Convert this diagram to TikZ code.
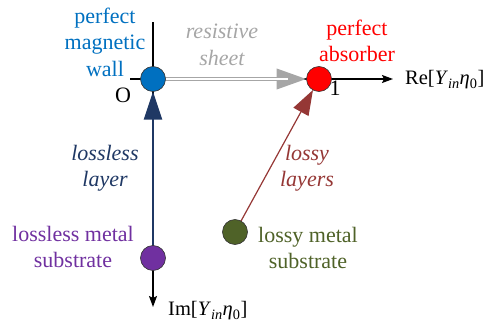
\documentclass[tikz,border=0pt]{standalone}
\usepackage{fontspec}
\setmainfont{Liberation Serif}
\usetikzlibrary{arrows.meta}
\definecolor{cblue}{RGB}{0,112,192}
\definecolor{cnavy}{RGB}{31,56,100}
\definecolor{cpurple}{RGB}{112,48,160}
\definecolor{colive}{RGB}{79,98,40}
\definecolor{cbrown}{RGB}{149,55,53}
\definecolor{cgray}{RGB}{166,166,166}
\tikzset{
  every node/.style={font=\fontsize{22}{26.5}\selectfont},
  dot/.style={circle, draw=black!80, line width=0.6pt, minimum size=25pt, inner sep=0pt},
  axis/.style={black, line width=1.6pt, -{Stealth[length=11pt,width=8pt,inset=2pt]}},
  lbl/.style={align=center, inner sep=0pt},
  itl/.style={font=\fontsize{22}{26.5}\selectfont\itshape},
  axlbl/.style={font=\fontsize{20.5}{24}\selectfont, anchor=west, inner sep=0pt},
}
\begin{document}
\begin{tikzpicture}[x=1pt,y=-1pt]
\useasboundingbox (0,0) rectangle (488,324);
% axis ends
\coordinate (vtop) at (153,22);
\coordinate (vbot) at (153,307);
\coordinate (hleft) at (130,79);
\coordinate (hright) at (393,79);
\coordinate (O) at (153,79);
\coordinate (R) at (319,79);
\coordinate (P) at (153,258);
\coordinate (G) at (235,232);
% axes
\draw[axis] (vtop) -- (vbot);
\draw[axis] (hleft) -- (hright);
% resistive sheet arrow (double gray line)
\draw[cgray, line width=4pt, shorten <=12pt, shorten >=12.5pt, -{Triangle[length=30pt,width=20pt]}] (O) -- (R);
\coordinate (rbase) at (288,79);
\draw[white, line width=1.6pt, shorten <=12pt] (O) -- (rbase);
% lossless layer arrow
\draw[cnavy, line width=2.2pt, shorten <=12.5pt, shorten >=12.5pt, -{Triangle[length=28pt,width=18pt]}] (P) -- (O);
% lossy layers arrow
\draw[cbrown, line width=1.2pt, shorten <=12pt, shorten >=12.5pt, -{Triangle[length=25pt,width=17pt]}] (G) -- (R);
% circles
\node[dot, fill=cblue] (nO) at (O) {};
\node[dot, fill=red] (nR) at (R) {};
\node[dot, fill=cpurple] (nP) at (P) {};
\node[dot, fill=colive] (nG) at (G) {};
% labels
\node[lbl, text=cblue] (tpmw) at (105,42) {perfect\\magnetic\\wall};
\node[lbl, text=cgray, itl] (trs) at (222,45) {resistive\\sheet};
\node[lbl, text=red] (tpa) at (357,41) {perfect\\absorber};
\node[lbl] (tO) at (123,95) {O};
\node[lbl] (t1) at (335,88) {1};
\node[axlbl] (tRe) at (405,80) {Re[\textit{Y}\textsubscript{\textit{in}}\textit{η}\textsubscript{0}]};
\node[axlbl] (tIm) at (168,311) {Im[\textit{Y}\textsubscript{\textit{in}}\textit{η}\textsubscript{0}]};
\node[lbl, text=cnavy, itl] (tll) at (105,168) {lossless\\layer};
\node[lbl, text=cbrown, itl] (tly) at (307,168) {lossy\\layers};
\node[lbl, text=cpurple] (tlms) at (73,247) {lossless metal\\substrate};
\node[lbl, text=colive] (tyms) at (308,248) {lossy metal\\substrate};
\end{tikzpicture}
\end{document}
